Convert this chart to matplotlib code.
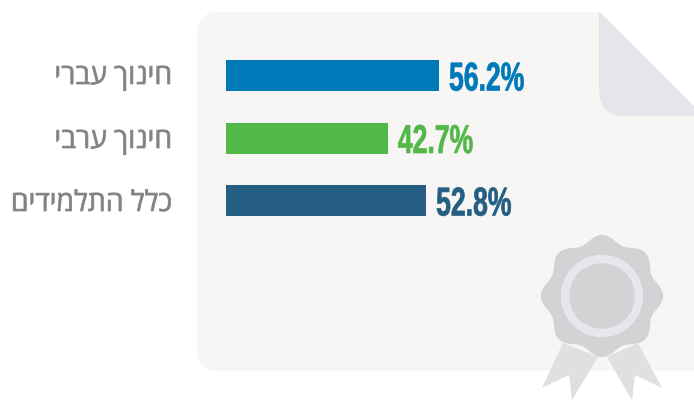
import numpy as np
import matplotlib
matplotlib.use('Agg')
import matplotlib.pyplot as plt
import matplotlib.patheffects as pe
from matplotlib.patches import Circle, FancyBboxPatch, Polygon, PathPatch
from matplotlib.path import Path
from matplotlib.transforms import Affine2D

labels = ['חינוך עברי', 'חינוך ערבי', 'כלל התלמידים']
values = [56.2, 42.7, 52.8]
colors = ['#0079B8', '#52B848', '#245E82']

W, H = 694, 400


# the numbers are set in a compressed face we do not have, so squeeze them
class Squeeze(pe.AbstractPathEffect):
    def __init__(self, sx, lw=0.0):
        super().__init__()
        self.sx = sx
        self.lw = lw

    def draw_path(self, renderer, gc, tpath, affine, rgbFace=None):
        gc0 = renderer.new_gc()
        gc0.copy_properties(gc)
        gc0.set_linewidth(self.lw)
        gc0.set_foreground(rgbFace)
        renderer.draw_path(gc0, tpath, Affine2D().scale(self.sx, 1) + affine, rgbFace)
        gc0.restore()


fig = plt.figure(figsize=(W / 100, H / 100), dpi=100)

# background, in pixels of the picture
bg = fig.add_axes([0, 0, 1, 1])
bg.set_xlim(0, W)
bg.set_ylim(H, 0)
bg.axis('off')

bg.add_patch(FancyBboxPatch((197, 12), 560, 359, boxstyle='round,pad=0,rounding_size=22',
                            fc='#F7F6F4', ec='none'))
# cut the corner of the sheet, then the fold
bg.add_patch(Polygon([(599, 11), (695, 11), (695, 107)], fc='white', ec='none'))
fold = Path([(599, 12), (695, 107), (695, 116), (625, 116), (599, 116), (599, 90), (599, 12)],
            [Path.MOVETO, Path.LINETO, Path.LINETO, Path.LINETO, Path.CURVE3, Path.CURVE3, Path.CLOSEPOLY])
bg.add_patch(PathPatch(fold, fc='#E5E6EC', ec='none'))

# seal
bg.add_patch(Polygon([(563, 343), (542, 388), (569, 375), (572, 400), (598, 357)], fc='#DFE0E1', ec='none'))
bg.add_patch(Polygon([(638, 343), (662, 388), (635, 375), (632, 400), (607, 357)], fc='#DFE0E1', ec='none'))
t = np.linspace(0, 2 * np.pi, 400)
r = 57.5 + 3.7 * np.cos(8 * t)
bg.add_patch(Polygon(np.column_stack([602 + r * np.sin(t), 296 - r * np.cos(t)]), fc='#D1D3D4', ec='none'))
bg.add_patch(Circle((602, 296), 37, fc='none', ec='#E6E7EC', lw=6))

for lab, y in zip(labels, [77, 141, 204]):
    # matplotlib has no bidi, hebrew goes in visual order
    bg.text(172.5, y, lab[::-1], ha='right', va='center', fontsize=20.4, color='#808285',
            family=['Open Sans', 'Liberation Sans', 'DejaVu Sans'], path_effects=[Squeeze(1.0, 0.5)])

# bars
ax = fig.add_axes([226 / W, 1 - 231.75 / H, 379 / W, 187.5 / H])
ax.patch.set_alpha(0)
ax.axis('off')
ax.set_xlim(0, 100)
ax.set_ylim(2.5, -0.5)
ax.barh(range(3), values, height=0.496, color=colors)

for i, v in enumerate(values):
    ax.annotate(f'{v}%', (v, i), xytext=(10, 0), textcoords='offset pixels', va='center_baseline',
                ha='left', fontsize=29, fontweight='bold', color=colors[i],
                family=['Liberation Sans Narrow', 'Liberation Sans'],
                path_effects=[Squeeze(0.66, 0.5)])

fig.savefig('out.png', dpi=100)
